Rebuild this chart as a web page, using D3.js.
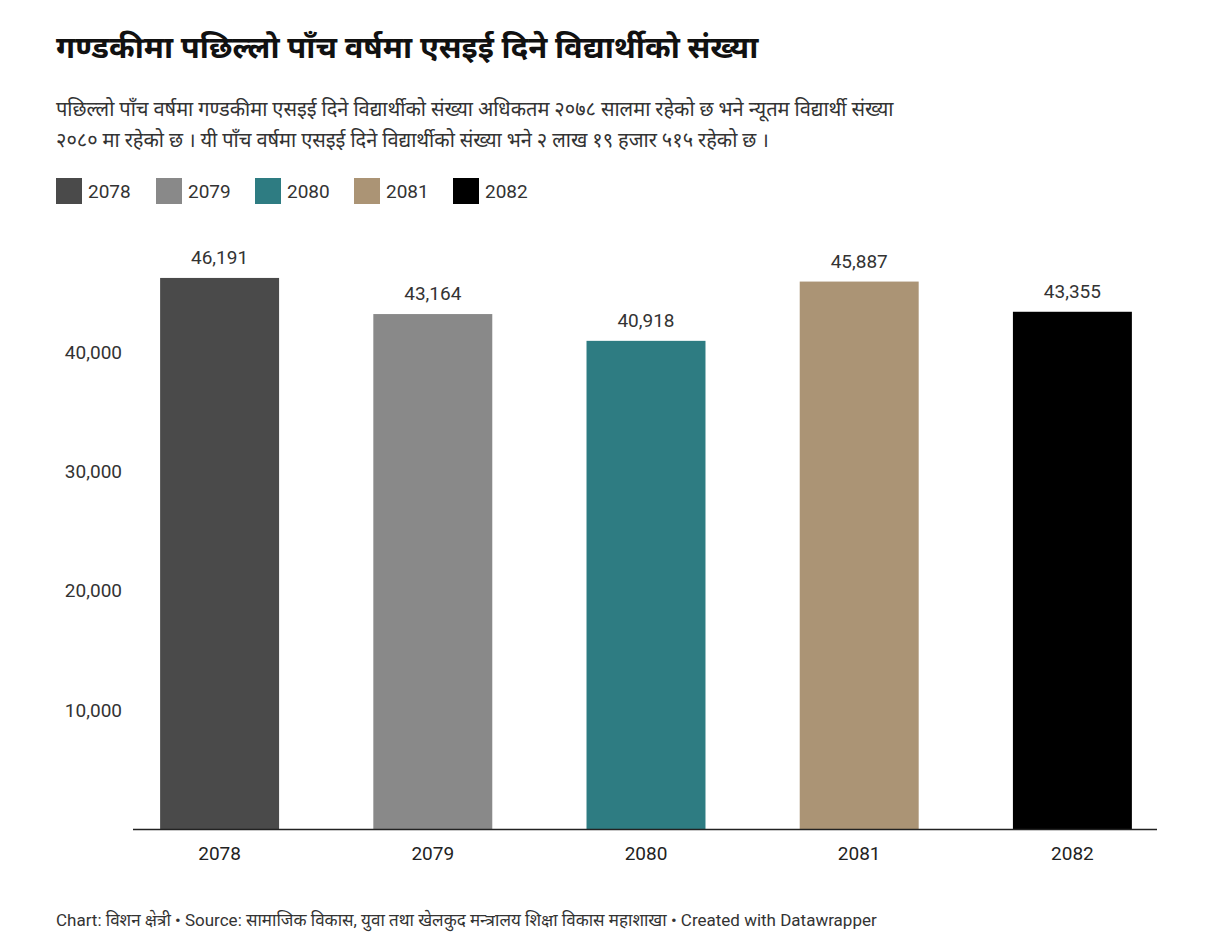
<!DOCTYPE html>
<html><head><meta charset="utf-8">
<script src="https://cdn.jsdelivr.net/npm/d3@7"></script>
<style>body{margin:0;background:#fff;font-family:Roboto,"Noto Sans",sans-serif}</style>
</head><body><svg id="c" width="1220" height="947"></svg>
<script>
const categories=["2078","2079","2080","2081","2082"];
const values=[46191,43164,40918,45887,43355];
const colors=["#4a4a4a","#898989","#2e7c82","#ab9475","#000000"];
const yTicks=[10000,20000,30000,40000];
const title="गण्डकीमा पछिल्लो पाँच वर्षमा एसइई दिने विद्यार्थीको संख्या";
const subtitle=["पछिल्लो पाँच वर्षमा गण्डकीमा एसइई दिने विद्यार्थीको संख्या अधिकतम २०७८ सालमा रहेको छ भने न्यूतम विद्यार्थी संख्या","२०८० मा रहेको छ । यी पाँच वर्षमा एसइई दिने विद्यार्थीको संख्या भने २ लाख १९ हजार ५१५ रहेको छ ।"];
const footer="Chart: विशन क्षेत्री • Source: सामाजिक विकास, युवा तथा खेलकुद मन्त्रालय शिक्षा विकास महाशाखा • Created with Datawrapper";
const svg=d3.select("#c");
svg.append("text").attr("x",56).attr("y",58).attr("font-size",31).attr("font-weight",700).attr("fill","#111").text(title);
subtitle.forEach((s,i)=>svg.append("text").attr("x",56).attr("y",116+i*31).attr("font-size",20).attr("fill","#333").text(s));
const lx=[56,156,255,354,453];
categories.forEach((c,i)=>{
  svg.append("rect").attr("x",lx[i]).attr("y",178).attr("width",26).attr("height",26).attr("fill",colors[i]);
  svg.append("text").attr("x",lx[i]+32).attr("y",198).attr("font-size",19).attr("fill","#333").text(c);
});
const x=d3.scaleBand().domain(categories).range([113,1179]).paddingInner(0.442).paddingOuter(0.221);
const y=d3.scaleLinear().domain([0,10000]).range([829,709.7]);
svg.selectAll(".yt").data(yTicks).join("text").attr("x",122).attr("y",d=>y(d)+7).attr("text-anchor","end").attr("font-size",19).attr("fill","#333").text(d=>d3.format(",")(d));
svg.selectAll(".b").data(values).join("rect").attr("x",(d,i)=>x(categories[i])).attr("y",d=>y(d)).attr("width",x.bandwidth()).attr("height",d=>y(0)-y(d)).attr("fill",(d,i)=>colors[i]);
svg.selectAll(".v").data(values).join("text").attr("x",(d,i)=>x(categories[i])+x.bandwidth()/2).attr("y",d=>y(d)-14).attr("text-anchor","middle").attr("font-size",19).attr("fill","#333").text(d=>d3.format(",")(d));
svg.append("line").attr("x1",133).attr("x2",1157).attr("y1",829.5).attr("y2",829.5).attr("stroke","#222").attr("stroke-width",1.5);
svg.selectAll(".xt").data(categories).join("text").attr("x",d=>x(d)+x.bandwidth()/2).attr("y",860).attr("text-anchor","middle").attr("font-size",19).attr("fill","#222").text(d=>d);
svg.append("text").attr("x",56).attr("y",926).attr("font-size",17).attr("fill","#333").text(footer);
</script></body></html>
